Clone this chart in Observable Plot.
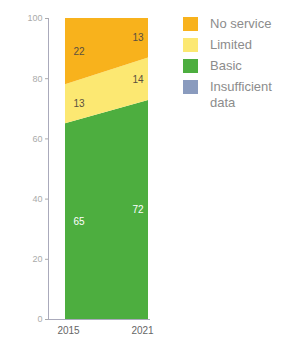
<!DOCTYPE html>
<html><head><meta charset="utf-8">
<script src="https://cdn.jsdelivr.net/npm/d3@7"></script>
<script src="https://cdn.jsdelivr.net/npm/@observablehq/plot@0.6"></script>
<style>
body{margin:0;background:#fff;font-family:"Liberation Sans",Arial,sans-serif;}
#wrap{position:relative;width:282px;height:337px;}
#legend{position:absolute;left:183px;top:17px;font-size:13px;color:#8c8c8c;}
.row{display:flex;align-items:flex-start;margin-bottom:6px;}
.sw{width:15px;height:14px;margin-right:12px;flex:none;}
</style></head>
<body><div id="wrap"><div id="chart"></div><div id="legend"></div></div>
<script>
const years = [2015, 2021];
const categories = ["Basic", "Limited", "No service"];
const basic = [65, 72];
const limited = [13, 14];
const noService = [22, 13];
const legendLabels = ["No service", "Limited", "Basic", "Insufficient data"];
const colors = {"No service":"#F8B21C","Limited":"#FCE872","Basic":"#4DAE3F","Insufficient data":"#8A9BBE"};

const series = {"Basic": basic, "Limited": limited, "No service": noService};
const data = [];
categories.forEach(c => years.forEach((y,i) => data.push({year:y, cat:c, value:series[c][i], side:i})));

const chart = Plot.plot({
  width: 160, height: 337,
  marginTop: 18, marginBottom: 18, marginLeft: 48, marginRight: 10,
  style: {fontFamily: "Liberation Sans, Arial, sans-serif", fontSize: "9px", color: "#aaa"},
  x: {domain: [2015, 2021], range: [65, 148], label: null},
  y: {domain: [0, 1], label: null},
  color: {domain: Object.keys(colors), range: Object.values(colors)},
  marks: [
    Plot.areaY(data, Plot.stackY({x: "year", y: "value", fill: "cat", order: categories, offset: "normalize"})),
    Plot.frame({anchor: "left", stroke: "#aab"}),
    Plot.ruleY([0], {stroke: "#aab"}),
    Plot.axisY({ticks: [0,0.2,0.4,0.6,0.8,1], tickFormat: d => Math.round(d*100), tickSize: 3, tickPadding: 3, fontSize: 9, color: "#aaa", label: null}),
    Plot.axisX({ticks: [years[0]], tickFormat: d => String(d), tickSize: 0, tickPadding: 7, dx: 3, fontSize: 10, color: "#666", label: null}),
    Plot.axisX({ticks: [years[1]], tickFormat: d => String(d), tickSize: 0, tickPadding: 7, dx: -6, fontSize: 10, color: "#666", label: null}),
    Plot.text(data.filter(d => d.side === 0), Plot.stackY({x: "year", y: "value", z: "cat", order: categories, offset: "normalize", text: d => d.value, textAnchor: "start", dx: 8, fill: d => d.cat === "Basic" ? "#fff" : "#5a5040", fontSize: 10})),
    Plot.text(data.filter(d => d.side === 1), Plot.stackY({x: "year", y: "value", z: "cat", order: categories, offset: "normalize", text: d => d.value, textAnchor: "end", dx: -5, fill: d => d.cat === "Basic" ? "#fff" : "#5a5040", fontSize: 10}))
  ]
});
document.getElementById("chart").appendChild(chart);

const lg = document.getElementById("legend");
legendLabels.forEach(l => {
  const r = document.createElement("div"); r.className = "row";
  const s = document.createElement("div"); s.className = "sw"; s.style.background = colors[l];
  const t = document.createElement("div"); t.textContent = l; t.style.width = "72px"; t.style.lineHeight = "16px"; t.style.marginTop = "-1px";
  r.appendChild(s); r.appendChild(t); lg.appendChild(r);
});
</script></body></html>
